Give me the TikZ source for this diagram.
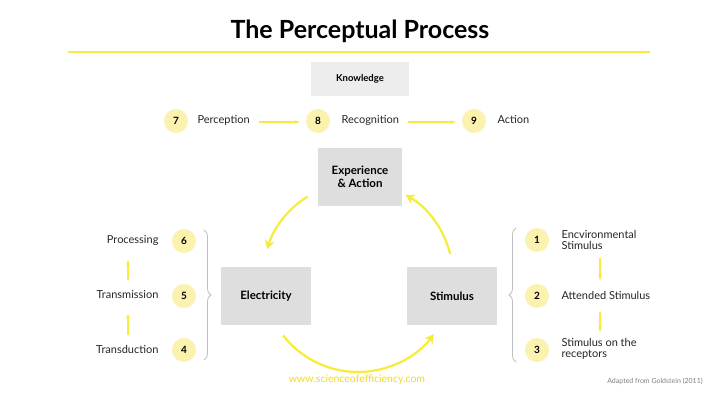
\documentclass[tikz,border=0pt]{standalone}
\usepackage{fontspec}
\setmainfont{Lato}
\usetikzlibrary{decorations.pathreplacing,arrows.meta,calc}
\definecolor{yel}{HTML}{F7EC3A}
\definecolor{lyel}{HTML}{FBF2B0}
\definecolor{boxg}{HTML}{DEDEDE}
\definecolor{web}{HTML}{EFD92A}
\begin{document}
\begin{tikzpicture}[x=1pt,y=1pt,
  num/.style={circle,fill=lyel,minimum size=24pt,inner sep=0pt,font=\fontsize{10}{12}\selectfont\bfseries},
  lbl/.style={font=\fontsize{11}{13}\selectfont,text=black!85},
  box/.style={fill=boxg,minimum width=90pt,minimum height=58pt,font=\fontsize{11.5}{13.5}\selectfont\bfseries,align=center},
  yarr/.style={draw=yel,line width=1.2pt,-{Stealth[length=5pt]}},
  big/.style={draw=yel,line width=2.2pt,-{Stealth[length=9pt,width=10pt]}}]
\useasboundingbox (0,0) rectangle (720,404);
\fill[white] (0,0) rectangle (720,404);
\node[font=\fontsize{25}{29}\selectfont\bfseries] (title) at (360,373) {The Perceptual Process};
\draw[yel,line width=1.5pt] (68,352) -- (650,352);
\node[fill=black!7,minimum width=98pt,minimum height=34pt,font=\fontsize{9.5}{11}\selectfont\bfseries] (know) at (360,325) {Knowledge};
% row
\node[num] (n7) at (176,283) {7};
\node[lbl,anchor=west] (perc) at (194,284) {Perception};
\node[num] (n8) at (318,283) {8};
\node[lbl,anchor=west] (rec) at (338,284) {Recognition};
\node[num] (n9) at (474,283) {9};
\node[lbl,anchor=west] (act) at (494,284) {Action};
\draw[yarr,shorten <=6pt,shorten >=6pt] (perc.east) ++(0,-2) coordinate (a1) -- (n8.west |- a1);
\draw[yarr,shorten <=6pt,shorten >=6pt] (rec.east) ++(0,-2) coordinate (a2) -- (n9.west |- a2);
% cycle
\coordinate (c) at (358,127);
\draw[big] ($(c)+(122:95)$) arc (122:163:95);
\draw[big] ($(c)+(218:95)$) arc (218:323:95);
\draw[big] ($(c)+(14:95)$) arc (14:60:95);
\node[box,minimum width=84pt] (exp) at (360,227) {Experience\\[-1pt]\& Action};
\node[box] (elec) at (266,108) {Electricity};
\node[box] (stim) at (452,108) {Stimulus};
% left column
\node[num] (n6) at (184,163) {6};
\node[num] (n5) at (184,108) {5};
\node[num] (n4) at (184,54) {4};
\node[lbl,anchor=east] (l6) at (162,164) {Processing};
\node[lbl,anchor=east] (l5) at (162,109) {Transmission};
\node[lbl,anchor=east] (l4) at (162,55) {Transduction};
\coordinate (u1) at (128,124); \coordinate (u1e) at (128,144);
\coordinate (u2) at (128,69); \coordinate (u2e) at (128,90);
\draw[yarr] (u1) -- (u1e);
\draw[yarr] (u2) -- (u2e);
\draw[black!25,line width=0.8pt,decorate,decoration={brace,amplitude=7pt}] (204,174) -- (204,44);
% right column
\node[num] (n1) at (537,164) {1};
\node[num] (n2) at (537,108) {2};
\node[num] (n3) at (537,54) {3};
\node[lbl,anchor=west,align=left] (r1) at (558,164) {Encvironmental\\[-2pt]Stimulus};
\node[lbl,anchor=west] (r2) at (558,109) {Attended Stimulus};
\node[lbl,anchor=west,align=left] (r3) at (558,55) {Stimulus on the\\[-2pt]receptors};
\coordinate (d1) at (600,146); \coordinate (d1e) at (600,124);
\coordinate (d2) at (600,92); \coordinate (d2e) at (600,72);
\draw[yarr] (d1) -- (d1e);
\draw[yarr] (d2) -- (d2e);
\draw[black!25,line width=0.8pt,decorate,decoration={brace,amplitude=7pt}] (516,42) -- (516,176);
% footer
\node[font=\fontsize{10.5}{12}\selectfont,text=web] (www) at (357,24) {www.scienceofefficiency.com};
\node[font=\fontsize{7}{9}\selectfont,text=black!50] (src) at (655,23) {Adapted from Goldstein (2011)};
\end{tikzpicture}
\end{document}
